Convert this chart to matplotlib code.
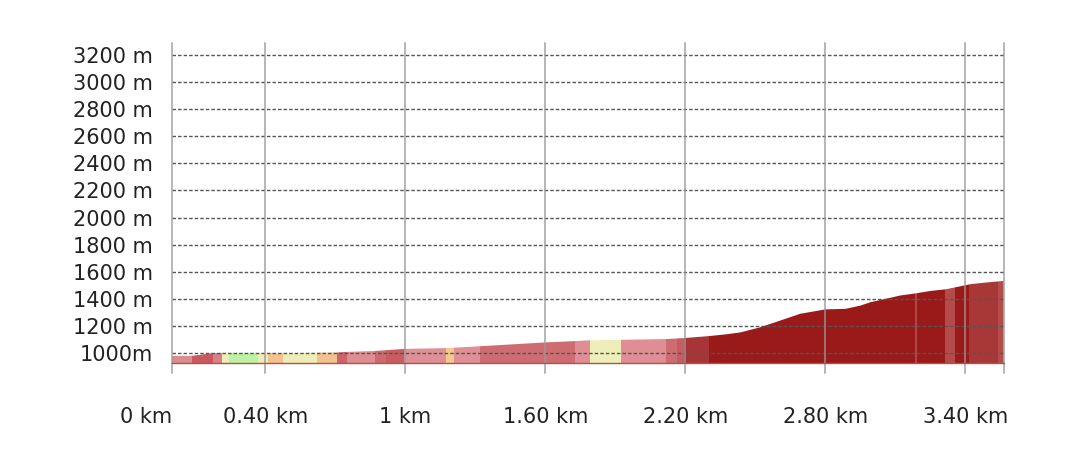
import numpy as np
import matplotlib
matplotlib.use("Agg")
import matplotlib.pyplot as plt

# elevation profile (km, m)
dist_km = [0.000, 0.086, 0.176, 0.214, 0.369, 0.476, 0.621, 0.712, 0.750, 0.870,
           0.995, 1.175, 1.321, 1.471, 1.600, 1.728, 1.792, 1.925, 2.118, 2.195,
           2.302, 2.371, 2.436, 2.521, 2.607, 2.693, 2.744, 2.800, 2.886, 2.950,
           2.993, 3.058, 3.122, 3.186, 3.250, 3.314, 3.357, 3.421, 3.486, 3.563]
elev_m = [978, 979, 999, 1001, 1001, 1000, 1002, 1004, 1008, 1015,
          1030, 1036, 1050, 1065, 1078, 1088, 1094, 1097, 1103, 1110,
          1125, 1137, 1152, 1190, 1240, 1290, 1305, 1322, 1326, 1350,
          1375, 1400, 1425, 1440, 1458, 1470, 1485, 1508, 1520, 1532]

# slope-coloured sections: start, end (km), colour
seg_start = [0.000, 0.086, 0.176, 0.214, 0.244, 0.369, 0.411, 0.476, 0.621, 0.707,
             0.750, 0.870, 0.917, 0.994, 1.174, 1.209, 1.320, 1.727, 1.791, 1.924,
             2.117, 2.164, 2.194, 2.301, 3.184, 3.193, 3.313, 3.356, 3.416, 3.540]
seg_end = seg_start[1:] + [3.563]
seg_color = ['#dc8c8e', '#c9595e', '#d98088', '#eeedb8', '#bdf2a5', '#eeedb8', '#f2c290',
             '#eeedb8', '#f2c290', '#cc6368', '#de8e91', '#cc6a6e', '#c85c60', '#df9094',
             '#f5c98d', '#df9094', '#cd6d72', '#df8f93', '#eeeebb', '#df8f93', '#cd6d72',
             '#c55c61', '#a83536', '#9a1a1a', '#b04545', '#9a1a1a', '#b54a4a', '#9a1a1a',
             '#a83838', '#b44c4c']

km_ticks = [0, 0.4, 1.0, 1.6, 2.2, 2.8, 3.4]
km_labels = ['0 km', '0.40 km', '1 km', '1.60 km', '2.20 km', '2.80 km', '3.40 km']
m_ticks = list(range(1000, 3201, 200))
m_labels = ['1000m'] + [f'{v} m' for v in m_ticks[1:]]

y_min, y_max = 926, 3289
x_max = 3.565

fig = plt.figure(figsize=(10.8, 4.75), dpi=100)
ax = fig.add_axes([172 / 1080, 112 / 475, (1004 - 172) / 1080, (363 - 43) / 475])

# full profile used as clip shape for the coloured sections
profile = ax.fill_between(dist_km, elev_m, y_min, color='none', lw=0)
clip = profile.get_paths()[0]
for a, b, c in zip(seg_start, seg_end, seg_color):
    span = ax.axvspan(a, b, color=c, lw=0, zorder=1)
    span.set_clip_path(clip, ax.transData)

ax.set_xlim(0, x_max)
ax.set_ylim(y_min, y_max)

for v in m_ticks:
    ax.axhline(v, color='#555555', lw=1, ls=(0, (2.5, 1.5)), zorder=3)
for v in km_ticks + [x_max]:
    ax.axvline(v, ymin=-10 / 320, ymax=1, color='#999999', lw=1.1,
               alpha=0.9, clip_on=False, zorder=4)

ax.set_yticks(m_ticks)
ax.set_yticklabels(m_labels)
ax.set_xticks(km_ticks)
ax.set_xticklabels(km_labels)
ax.get_xticklabels()[0].set_ha('right')
ax.tick_params(axis='y', length=0, pad=14, labelsize=15, labelcolor='#222222')
ax.tick_params(axis='x', length=0, pad=32, labelsize=15, labelcolor='#222222')

for s in ['top', 'left', 'right']:
    ax.spines[s].set_visible(False)
ax.spines['bottom'].set_color('#b05050')
ax.spines['bottom'].set_linewidth(1)
ax.spines['bottom'].set_zorder(5)

fig.savefig('out.png', dpi=100, facecolor='white')
